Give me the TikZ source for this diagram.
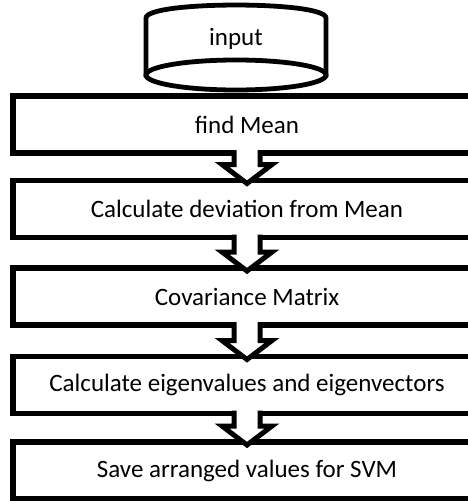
\documentclass[tikz,border=0pt]{standalone}
\usepackage{fontspec}
\setmainfont{Carlito}
\usetikzlibrary{calc}
\tikzset{
  stepbox/.style={draw=black, line width=5.2pt, fill=white, rectangle,
    minimum width=468pt, minimum height=57pt, inner sep=0pt, outer sep=0pt,
    font=\fontsize{25}{30}\selectfont},
  label text/.style={font=\fontsize{25}{30}\selectfont, inner sep=0pt},
  drum/.style={draw=black, line width=4.8pt, fill=white},
  blockarrow/.style={draw=black, line width=5pt, line join=miter, miter limit=4},
}
% white block arrow drawn from the bottom of one step to the top of the next
\newcommand\flowarrow[2]{%
  \fill[white] ($(#1.south)+(-13,-3)$) -- ($(#2.north)+(-13,-16)$)
    -- ($(#2.north)+(-25,-16)$) -- ($(#2.north)+(0,3)$)
    -- ($(#2.north)+(25,-16)$) -- ($(#2.north)+(13,-16)$)
    -- ($(#1.south)+(13,-3)$) -- cycle;
  \draw[blockarrow] ($(#1.south)+(-13,-3)$) -- ($(#2.north)+(-13,-16)$)
    -- ($(#2.north)+(-25,-16)$) -- ($(#2.north)+(0,3)$)
    -- ($(#2.north)+(25,-16)$) -- ($(#2.north)+(13,-16)$)
    -- ($(#1.south)+(13,-3)$);
}
\begin{document}
\begin{tikzpicture}[x=1pt, y=-1pt]
  \useasboundingbox (0,0) rectangle (468,501);
  \clip (0,0) rectangle (468,501);

  % input drum: arched top, straight sides, full bottom ellipse
  \filldraw[drum] (146,18) .. controls (146,0.7) and (326,0.7) .. (326,18)
    -- (326,75) -- (146,75) -- cycle;
  \filldraw[drum] (236,75) ellipse [x radius=90, y radius=15];
  \node[label text] (input) at (236,39) {input};

  % processing steps
  \node[stepbox] (mean) at (247,124.5) {find Mean};
  \node[stepbox] (dev)  at (247,209)   {Calculate deviation from Mean};
  \node[stepbox] (cov)  at (247,296.5) {Covariance Matrix};
  \node[stepbox] (eig)  at (247,385)   {Calculate eigenvalues and eigenvectors};
  \node[stepbox] (save) at (247,470.5) {Save arranged values for SVM};

  \flowarrow{mean}{dev}
  \flowarrow{dev}{cov}
  \flowarrow{cov}{eig}
  \flowarrow{eig}{save}
\end{tikzpicture}
\end{document}
